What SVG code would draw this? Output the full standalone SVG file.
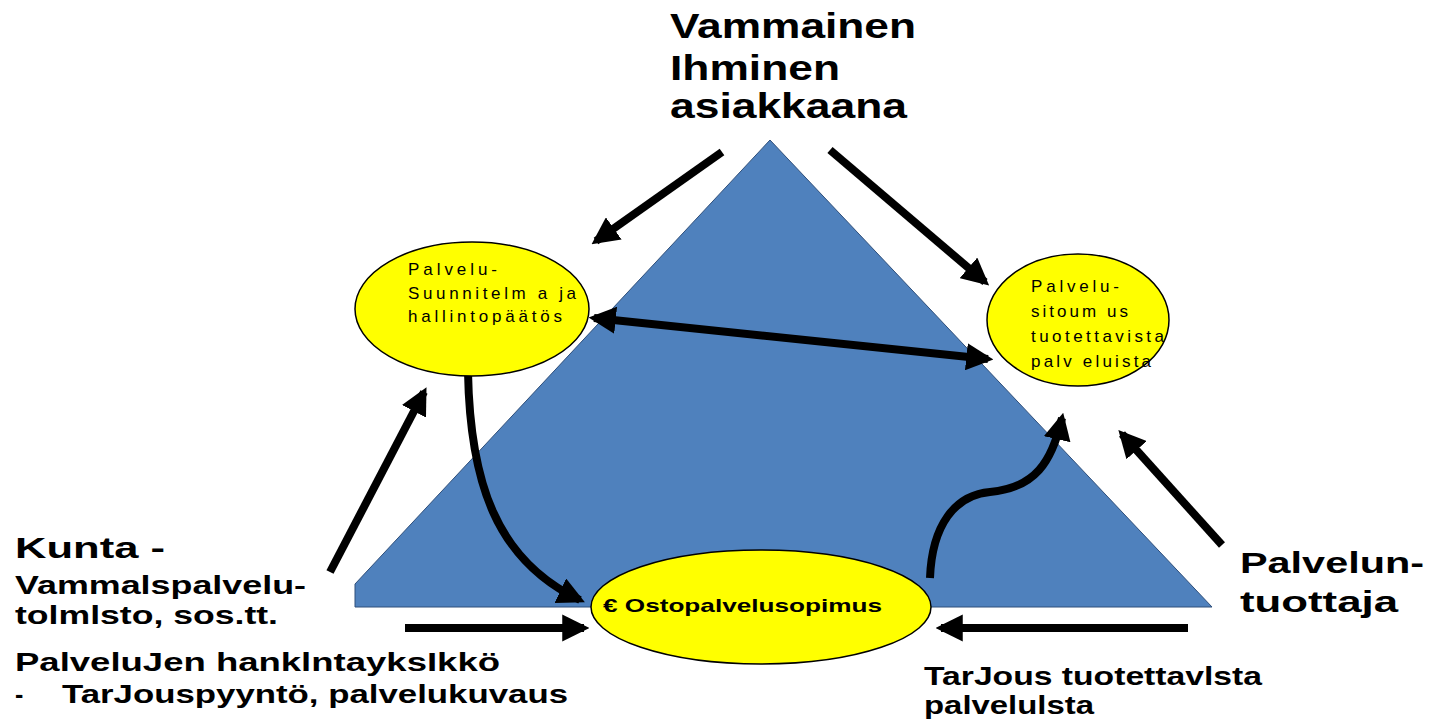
<svg xmlns="http://www.w3.org/2000/svg" width="1443" height="722" viewBox="0 0 1443 722">
<style>
.big{font-family:"Liberation Sans",Arial,sans-serif;font-weight:bold;fill:#000}
.sm{font-family:"Liberation Sans",Arial,sans-serif;fill:#000;font-size:17px}
.ell{fill:#FFFF00;stroke:#000;stroke-width:1.5}
.ar{fill:none;stroke:#000;stroke-width:8}
</style>
<defs>
<marker id="ah" viewBox="0 0 10 10" refX="8" refY="5" markerWidth="3.4" markerHeight="3.4" orient="auto-start-reverse" markerUnits="strokeWidth">
<path d="M0,0 L10,5 L0,10 z" fill="#000"/>
</marker>
</defs>
<rect width="1443" height="722" fill="#fff"/>
<g id="triangle">
<path d="M770,140 L1212,607 L355,607 L355,584 Z" fill="#4F81BD" stroke="#2f4f7a" stroke-width="1"/>
</g>
<g id="connectors">
<line class="ar" x1="722" y1="152" x2="596" y2="241" marker-end="url(#ah)"/>
<line class="ar" x1="830" y1="150" x2="985" y2="282" marker-end="url(#ah)"/>
<line class="ar" x1="594" y1="318" x2="988" y2="359" marker-start="url(#ah)" marker-end="url(#ah)"/>
<line class="ar" x1="330" y1="572" x2="424" y2="392" marker-end="url(#ah)"/>
<line class="ar" x1="1222" y1="545" x2="1122" y2="434" marker-end="url(#ah)"/>
<line class="ar" x1="405" y1="628" x2="584" y2="628" marker-end="url(#ah)"/>
<line class="ar" x1="1188" y1="628" x2="941" y2="628" marker-end="url(#ah)"/>
<path class="ar" d="M468,372 C470,480 495,560 580,600" marker-end="url(#ah)"/>
<path class="ar" d="M930,578 C932,525 955,495 990,492 C1035,488 1052,462 1062,418" marker-end="url(#ah)"/>
</g>
<g id="node-suunnitelma">
<ellipse class="ell" cx="472" cy="309" rx="117" ry="67"/>
<text class="sm" x="408" y="275" textLength="89" lengthAdjust="spacing">Palvelu-</text>
<text class="sm" x="408" y="299" textLength="168" lengthAdjust="spacing">Suunnitelm a ja</text>
<text class="sm" x="408" y="322" textLength="154" lengthAdjust="spacing">hallintopäätös</text>
</g>
<g id="node-sitoumus">
<ellipse class="ell" cx="1078" cy="320" rx="91" ry="66"/>
<text class="sm" x="1031" y="292" textLength="88" lengthAdjust="spacing">Palvelu-</text>
<text class="sm" x="1031" y="317" textLength="97" lengthAdjust="spacing">sitoum us</text>
<text class="sm" x="1031" y="342" textLength="133" lengthAdjust="spacing">tuotettavista</text>
<text class="sm" x="1031" y="367" textLength="120" lengthAdjust="spacing">palv eluista</text>
</g>
<g id="node-ostopalvelu">
<ellipse class="ell" cx="761" cy="607" rx="170" ry="57"/>
<text class="big" x="603" y="612" font-size="19" textLength="279" lengthAdjust="spacingAndGlyphs">€ Ostopalvelusopimus</text>
</g>
<g id="node-asiakas">
<text class="big" x="670" y="38" font-size="35" textLength="246" lengthAdjust="spacingAndGlyphs">Vammainen</text>
<text class="big" x="670" y="80" font-size="35" textLength="170" lengthAdjust="spacingAndGlyphs">Ihminen</text>
<text class="big" x="670" y="118" font-size="35" textLength="237" lengthAdjust="spacingAndGlyphs">asiakkaana</text>
</g>
<g id="node-kunta">
<text class="big" x="15" y="558" font-size="30" textLength="150" lengthAdjust="spacingAndGlyphs">Kunta -</text>
<text class="big" x="15" y="594" font-size="26" textLength="291" lengthAdjust="spacingAndGlyphs">Vammalspalvelu-</text>
<text class="big" x="15" y="624" font-size="26" textLength="263" lengthAdjust="spacingAndGlyphs">tolmlsto, sos.tt.</text>
<text class="big" x="15" y="671" font-size="25" textLength="485" lengthAdjust="spacingAndGlyphs">PalveluJen hanklntayksIkkö</text>
<text class="big" x="15" y="703" font-size="25">-</text>
<text class="big" x="62" y="703" font-size="25" textLength="506" lengthAdjust="spacingAndGlyphs">TarJouspyyntö, palvelukuvaus</text>
</g>
<g id="node-tuottaja">
<text class="big" x="1240" y="573" font-size="30" textLength="184" lengthAdjust="spacingAndGlyphs">Palvelun-</text>
<text class="big" x="1240" y="612" font-size="30" textLength="158" lengthAdjust="spacingAndGlyphs">tuottaja</text>
<text class="big" x="924" y="685" font-size="25" textLength="338" lengthAdjust="spacingAndGlyphs">TarJous tuotettavlsta</text>
<text class="big" x="924" y="714" font-size="25" textLength="170" lengthAdjust="spacingAndGlyphs">palvelulsta</text>
</g>
</svg>
